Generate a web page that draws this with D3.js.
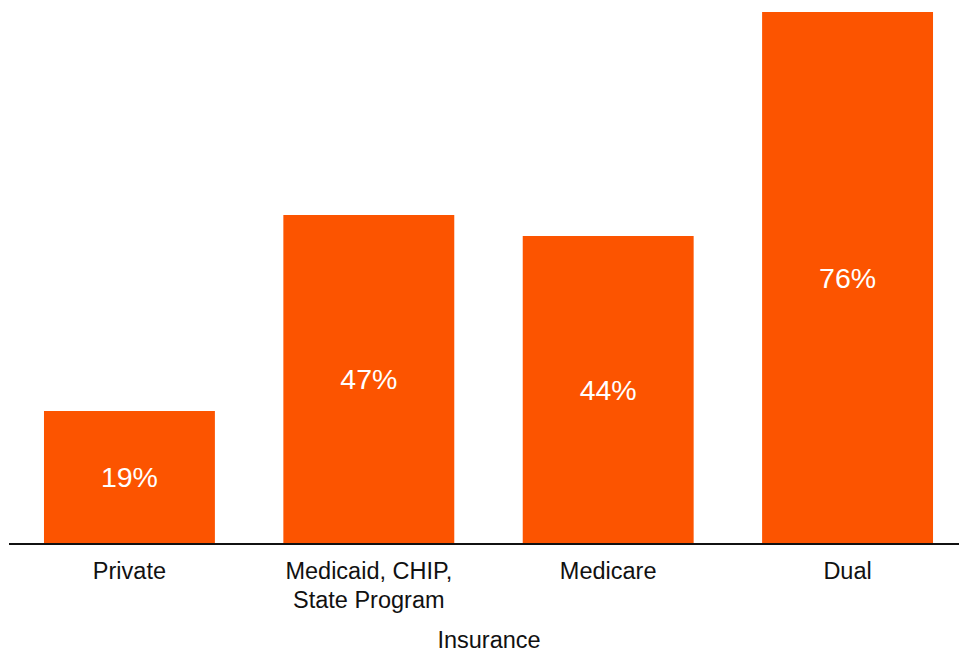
<!DOCTYPE html>
<html>
<head>
<meta charset="utf-8">
<script src="https://cdn.jsdelivr.net/npm/d3@7"></script>
<style>
  html, body { margin: 0; padding: 0; background: #fff; }
  text { font-family: "Liberation Sans", Arial, Helvetica, sans-serif; }
</style>
</head>
<body>
<svg id="chart" width="959" height="652"></svg>
<script>
// Share of patients by insurance type (percent)
const categories = ["Private", "Medicaid, CHIP, State Program", "Medicare", "Dual"];
const categoryLines = [["Private"], ["Medicaid, CHIP,", "State Program"], ["Medicare"], ["Dual"]];
const values = [19, 47, 44, 76];
const axisTitle = "Insurance";

const width = 959, height = 652;
const baseline = 544;
const barColor = "#fc5400";

const svg = d3.select("#chart");

const x = d3.scaleBand()
  .domain(categories)
  .range([9.75, 967.25])
  .paddingInner(0.286)
  .paddingOuter(0.143);

const y = d3.scaleLinear()
  .domain([0, 76])
  .range([baseline, 12]);

// Bars
svg.append("g")
  .selectAll("rect")
  .data(values)
  .join("rect")
  .attr("x", (d, i) => x(categories[i]))
  .attr("width", x.bandwidth())
  .attr("y", d => y(d))
  .attr("height", d => baseline - y(d))
  .attr("fill", barColor);

// Value labels centred in each bar
svg.append("g")
  .selectAll("text")
  .data(values)
  .join("text")
  .attr("x", (d, i) => x(categories[i]) + x.bandwidth() / 2)
  .attr("y", d => (y(d) + baseline) / 2)
  .attr("dy", "0.35em")
  .attr("text-anchor", "middle")
  .attr("fill", "#fff")
  .style("font-size", "28.5px")
  .text(d => d + "%");

// Category axis
const axis = svg.append("g")
  .attr("transform", `translate(0,${baseline})`)
  .call(d3.axisBottom(x).tickSize(0).tickFormat(""));
axis.select(".domain").remove();
axis.append("line")
  .attr("x1", 9).attr("x2", 959)
  .attr("y1", 0).attr("y2", 0)
  .attr("stroke", "#111")
  .attr("stroke-width", 2);

const labels = svg.append("g")
  .selectAll("text")
  .data(categories)
  .join("text")
  .attr("x", d => x(d) + x.bandwidth() / 2)
  .attr("y", 571)
  .attr("text-anchor", "middle")
  .attr("fill", "#111")
  .style("font-size", "23.5px");
labels.each(function(d, i) {
  d3.select(this).selectAll("tspan")
    .data(categoryLines[i])
    .join("tspan")
    .attr("x", x(d) + x.bandwidth() / 2)
    .attr("dy", (t, j) => j === 0 ? "0.35em" : "29px")
    .text(t => t);
});

svg.append("text")
  .attr("x", 489)
  .attr("y", 640)
  .attr("dy", "0.35em")
  .attr("text-anchor", "middle")
  .attr("fill", "#111")
  .style("font-size", "23.5px")
  .text(axisTitle);
</script>
</body>
</html>
